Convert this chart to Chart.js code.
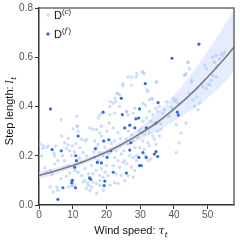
<!DOCTYPE html>
<html>
<head>
<meta charset="utf-8">
<script src="https://cdn.jsdelivr.net/npm/chart.js@4/dist/chart.umd.min.js"></script>
<style>
    html, body { margin: 0; padding: 0; background: #fff; }
    #wrap { width: 240px; height: 240px; }
</style>
</head>
<body>
<div id="wrap"><canvas id="chart" width="240" height="240"></canvas></div>
<script>
// common samples D(c): wind speed / step length
const lightSpeed = [
    0.3, 1.3, 2.3, 1.2, 1.7, 2.8, 4.7, 3.3, 2.3, 3.3, 4.2, 5.3, 4.6, 5.6, 5.6, 0.8, 3.8, 4.4, 5.0, 6.5,
    6.6, 6.7, 7.6, 8.6, 8.1, 9.1, 9.6, 7.6, 8.6, 9.1, 8.1, 9.6, 7.4, 8.7, 9.5, 8.6, 6.9, 9.9,
    10.1, 11.3, 11.4, 11.6, 12.6, 13.6, 14.1, 12.1, 13.1, 14.1, 12.6, 13.6, 14.6, 12.6, 11.6, 13.6, 14.6, 14.1, 15.1, 10.7, 10.2, 13.1, 14.4, 11.0, 12.0, 10.5, 11.2,
    15.1, 17.1, 16.0, 18.0, 18.5, 16.5, 17.5, 17.0, 18.0, 19.0, 16.5, 17.5, 18.5, 17.0, 16.0, 18.0, 19.0, 17.0, 18.0, 16.0, 19.6, 20.0, 15.6, 18.5, 18.1, 17.6, 19.1, 15.6, 18.1, 19.1, 17.1, 16.2, 19.5,
    20.1, 21.0, 20.8, 21.0, 22.0, 22.7, 23.4, 23.9, 24.9, 24.8, 21.1, 23.0, 22.6, 23.9, 22.4, 22.0, 23.4, 22.4, 23.9, 22.9, 24.4, 22.4, 23.4, 24.9, 22.0, 23.9, 22.9, 24.4, 23.4, 22.4, 20.5, 21.1, 21.5, 24.2, 20.6,
    26.4, 27.4, 27.5, 29.0, 28.8, 26.0, 25.9, 26.4, 27.9, 28.4, 25.9, 26.4, 27.9, 28.4, 26.9, 27.9, 28.9, 25.9, 27.4, 28.4, 26.4, 27.9, 25.4, 28.9, 29.3, 25.4, 29.8, 29.8, 26.5, 27.5, 25.2,
    30.5, 30.8, 31.2, 34.7, 34.9, 32.3, 32.0, 32.7, 33.7, 33.4, 30.8, 31.5, 34.7, 35.2, 35.7, 32.7, 33.7, 31.8, 30.8, 33.2, 34.2, 36.7, 37.2, 31.2, 32.7, 33.7, 35.2, 30.8, 32.3, 34.2, 35.7, 36.2, 31.2, 32.7, 34.7, 32.3, 33.2, 30.2, 36.0, 31.5,
    40.7, 40.1, 41.2, 39.2, 39.7, 39.9, 40.7, 42.1, 41.5, 40.7, 43.1, 43.6, 43.3, 44.1, 44.3, 44.6, 45.1, 45.3, 44.6, 45.6, 46.6, 46.1, 47.1, 47.6, 43.6, 49.1, 49.6, 48.6, 49.6, 50.1, 50.6, 51.5, 52.5, 53.5, 54.0, 54.5, 55.0, 52.0, 53.0, 51.5, 52.5, 51.0, 38.5, 37.8
];
const lightStep = [
    0.247, 0.24, 0.233, 0.23, 0.15, 0.24, 0.167, 0.14, 0.133, 0.073, 0.053, 0.073, 0.2, 0.18, 0.06, 0.2, 0.125, 0.21, 0.24, 0.107,
    0.347, 0.28, 0.253, 0.245, 0.23, 0.22, 0.2, 0.18, 0.16, 0.13, 0.117, 0.077, 0.153, 0.073, 0.1, 0.27, 0.2, 0.24,
    0.31, 0.32, 0.32, 0.30, 0.267, 0.26, 0.267, 0.233, 0.213, 0.2, 0.173, 0.147, 0.127, 0.12, 0.133, 0.1, 0.08, 0.067, 0.06, 0.14, 0.08, 0.093, 0.09, 0.25, 0.19, 0.215, 0.36,
    0.313, 0.307, 0.307, 0.293, 0.28, 0.26, 0.247, 0.233, 0.213, 0.2, 0.193, 0.18, 0.147, 0.14, 0.127, 0.12, 0.113, 0.087, 0.08, 0.093, 0.133, 0.16, 0.16, 0.32, 0.367, 0.353, 0.26, 0.073, 0.1, 0.06, 0.047, 0.215, 0.235,
    0.3, 0.367, 0.333, 0.40, 0.413, 0.42, 0.453, 0.447, 0.484, 0.493, 0.42, 0.453, 0.433, 0.4, 0.373, 0.313, 0.293, 0.26, 0.24, 0.22, 0.207, 0.193, 0.18, 0.173, 0.16, 0.153, 0.127, 0.12, 0.087, 0.09, 0.12, 0.08, 0.25, 0.27, 0.21,
    0.52, 0.487, 0.52, 0.533, 0.52, 0.38, 0.38, 0.367, 0.373, 0.393, 0.267, 0.247, 0.26, 0.233, 0.2, 0.193, 0.18, 0.167, 0.153, 0.14, 0.12, 0.113, 0.1, 0.2, 0.273, 0.18, 0.3, 0.233, 0.3, 0.285, 0.22,
    0.54, 0.54, 0.533, 0.5, 0.5, 0.46, 0.467, 0.427, 0.43, 0.433, 0.413, 0.405, 0.393, 0.38, 0.4, 0.38, 0.367, 0.353, 0.34, 0.34, 0.327, 0.373, 0.387, 0.287, 0.293, 0.28, 0.3, 0.26, 0.253, 0.267, 0.28, 0.307, 0.227, 0.24, 0.247, 0.18, 0.187, 0.31, 0.33, 0.2,
    0.427, 0.42, 0.413, 0.397, 0.387, 0.433, 0.327, 0.293, 0.253, 0.213, 0.527, 0.533, 0.527, 0.58, 0.58, 0.553, 0.5, 0.507, 0.453, 0.427, 0.44, 0.4, 0.387, 0.413, 0.333, 0.567, 0.553, 0.48, 0.473, 0.493, 0.487, 0.6, 0.607, 0.593, 0.613, 0.607, 0.62, 0.58, 0.567, 0.527, 0.52, 0.507, 0.36, 0.42
];

// focus samples D(f)
const focusSpeed = [
    3.4, 3.9, 6.6, 7.1, 5.6, 11.6, 10.9, 11.1, 10.6, 9.9, 9.7, 10.8, 19.0, 16.7, 17.3, 18.5, 19.2, 20.7, 21.3, 20.2,
    15.0, 15.3, 19.5, 19.3, 22.0, 24.4, 24.7, 25.4, 26.9, 27.2, 26.9, 25.9, 28.4, 28.7, 47.4, 39.4, 31.5, 29.8, 29.5, 35.3,
    34.7, 31.8, 41.0, 41.3, 30.8, 29.6, 31.8, 34.2, 34.7, 35.2, 29.8, 30.3
];
const focusStep = [
    0.39, 0.225, 0.22, 0.07, 0.023, 0.28, 0.20, 0.18, 0.153, 0.10, 0.09, 0.07, 0.377, 0.228, 0.173, 0.171, 0.26, 0.265, 0.22, 0.193,
    0.11, 0.105, 0.097, 0.079, 0.133, 0.433, 0.367, 0.313, 0.324, 0.253, 0.223, 0.13, 0.313, 0.35, 0.653, 0.596, 0.493, 0.39, 0.353, 0.416,
    0.333, 0.313, 0.377, 0.365, 0.213, 0.193, 0.193, 0.207, 0.217, 0.197, 0.16, 0.16
];

// fitted curve and its band
const fitSpeed = [0, 5, 10, 15, 20, 25, 30, 35, 40, 45, 50, 55, 58];
const fitStep  = [0.12, 0.139, 0.16, 0.186, 0.215, 0.25, 0.29, 0.335, 0.39, 0.45, 0.52, 0.595, 0.645];
const bandLow  = [0.105, 0.126, 0.149, 0.175, 0.203, 0.235, 0.267, 0.30, 0.34, 0.385, 0.435, 0.50, 0.545];
const bandHigh = [0.135, 0.152, 0.172, 0.197, 0.227, 0.265, 0.315, 0.375, 0.445, 0.53, 0.625, 0.73, 0.80];

const xTicks = [0, 10, 20, 30, 40, 50];
const yTicks = [0, 0.2, 0.4, 0.6, 0.8];

const LIGHT = 'rgba(170,196,246,0.6)';
const DARK = 'rgb(52,106,232)';

function pairs(xs, ys) {
    return xs.map((x, i) => ({ x: x, y: ys[i] }));
}

const framePlugin = {
    id: 'frame',
    afterDraw(chart) {
        const { ctx, chartArea: a } = chart;
        ctx.save();
        ctx.strokeStyle = '#6a6a6a';
        ctx.lineWidth = 1.5;
        ctx.beginPath();
        ctx.moveTo(a.left, a.top);
        ctx.lineTo(a.right, a.top);
        ctx.lineTo(a.right, a.bottom);
        ctx.stroke();

        // axis titles
        ctx.fillStyle = '#111';
        ctx.textBaseline = 'alphabetic';
        const sans = '11px "Liberation Sans", Arial, sans-serif';
        const ital = 'italic 11px "DejaVu Serif", serif';
        const sub = 'italic 7.5px "DejaVu Serif", serif';

        function label(main, sym, idx) {
            ctx.font = sans;
            const w1 = ctx.measureText(main).width;
            ctx.font = ital;
            const w2 = ctx.measureText(sym).width;
            ctx.font = sub;
            const w3 = ctx.measureText(idx).width;
            const total = w1 + w2 + w3;
            let x = -total / 2;
            ctx.font = sans;
            ctx.fillText(main, x, 0);
            x += w1;
            ctx.font = ital;
            ctx.fillText(sym, x, 0);
            x += w2;
            ctx.font = sub;
            ctx.fillText(idx, x, 2.5);
        }

        ctx.save();
        ctx.translate(131, 234);
        label('Wind speed: ', 'τ', 't');
        ctx.restore();

        ctx.save();
        ctx.translate(13, 111);
        ctx.rotate(-Math.PI / 2);
        label('Step length: ', 'l', 't');
        ctx.restore();

        // legend
        const items = [[LIGHT, '(c)', 15], [DARK, '(f)', 34]];
        items.forEach(([col, sup, y]) => {
            ctx.fillStyle = col;
            ctx.beginPath();
            ctx.arc(48, y, 1.7, 0, Math.PI * 2);
            ctx.fill();
            ctx.fillStyle = '#111';
            ctx.font = sans;
            ctx.fillText('D', 54, y + 4);
            ctx.font = '7.5px "Liberation Sans", Arial, sans-serif';
            ctx.fillText('(', 62, y - 1);
            ctx.font = 'italic 7.5px "DejaVu Serif", serif';
            ctx.fillText(sup.slice(1, -1), 64.5, y - 1);
            ctx.font = '7.5px "Liberation Sans", Arial, sans-serif';
            ctx.fillText(')', 68.5, y - 1);
        });
        ctx.restore();
    }
};

new Chart(document.getElementById('chart'), {
    type: 'scatter',
    data: {
        datasets: [
            {
                type: 'line',
                data: pairs(fitSpeed, bandLow),
                borderWidth: 0,
                pointRadius: 0,
                fill: false,
                tension: 0.4,
                order: 5
            },
            {
                type: 'line',
                data: pairs(fitSpeed, bandHigh),
                borderWidth: 0,
                pointRadius: 0,
                backgroundColor: 'rgba(205,220,252,0.55)',
                fill: '-1',
                tension: 0.4,
                order: 4
            },
            {
                data: pairs(lightSpeed, lightStep),
                backgroundColor: LIGHT,
                borderWidth: 0,
                pointRadius: 1.7,
                order: 3
            },
            {
                data: pairs(focusSpeed, focusStep),
                backgroundColor: DARK,
                borderWidth: 0,
                pointRadius: 1.6,
                order: 2
            },
            {
                type: 'line',
                data: pairs(fitSpeed, fitStep),
                borderColor: '#7c7c7c',
                borderWidth: 1.6,
                pointRadius: 0,
                fill: false,
                tension: 0.4,
                order: 1
            }
        ]
    },
    options: {
        responsive: false,
        animation: false,
        devicePixelRatio: 1,
        layout: { padding: { left: 0, right: 6, top: 6, bottom: 0 } },
        plugins: {
            legend: { display: false },
            tooltip: { enabled: false }
        },
        scales: {
            x: {
                type: 'linear',
                min: 0,
                max: 57.8,
                afterFit: s => { s.height = 35; },
                afterBuildTicks: s => { s.ticks = xTicks.map(v => ({ value: v })); },
                grid: { drawOnChartArea: false, drawTicks: true, tickLength: 4, color: '#333' },
                border: { display: true, color: '#333', width: 1.5 },
                ticks: {
                    color: '#555',
                    padding: 0,
                    maxRotation: 0,
                    font: { family: '"Liberation Sans", Arial, sans-serif', size: 10 },
                    callback: v => String(v)
                }
            },
            y: {
                min: 0,
                max: 0.8,
                afterFit: s => { s.width = 39; },
                afterBuildTicks: s => { s.ticks = yTicks.map(v => ({ value: v })); },
                grid: { drawOnChartArea: false, drawTicks: true, tickLength: 4, color: '#333' },
                border: { display: true, color: '#333', width: 1.5 },
                ticks: {
                    color: '#555',
                    padding: 2,
                    font: { family: '"Liberation Sans", Arial, sans-serif', size: 10 },
                    callback: v => v.toFixed(1)
                }
            }
        }
    },
    plugins: [framePlugin]
});
</script>
</body>
</html>
